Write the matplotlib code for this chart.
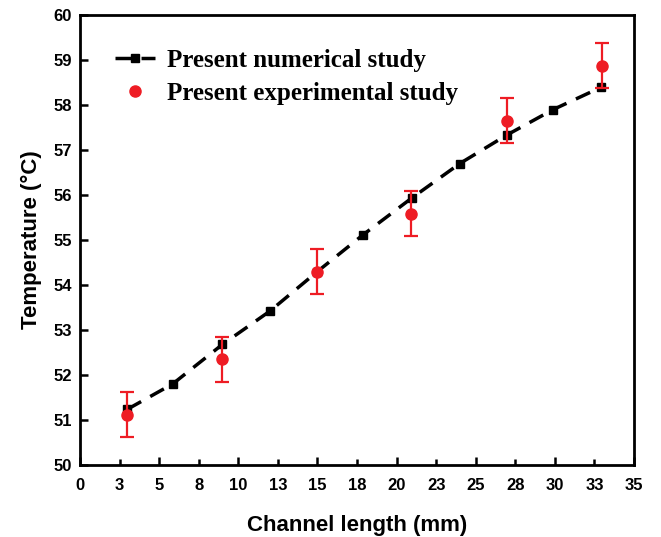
import matplotlib
matplotlib.use("Agg")
import matplotlib.pyplot as plt
from matplotlib.lines import Line2D
import numpy as np

# Data
num_x = [3.0, 5.85, 9.0, 12.0, 15.0, 17.9, 20.95, 24.0, 26.95, 29.9, 32.9]
num_y = [51.24, 51.8, 52.68, 53.42, 54.3, 55.12, 55.93, 56.7, 57.33, 57.9, 58.39]
exp_x = [3.0, 9.0, 15.0, 20.9, 27.0, 33.0]
exp_y = [51.12, 52.35, 54.29, 55.58, 57.65, 58.87]
exp_err = [0.5, 0.5, 0.5, 0.5, 0.5, 0.5]
xtick_pos = [0, 2.5, 5, 7.5, 10, 12.5, 15, 17.5, 20, 22.5, 25, 27.5, 30, 32.5, 35]
xtick_labels = ["0", "3", "5", "8", "10", "13", "15", "18", "20", "23", "25", "28", "30", "33", "35"]
ytick_pos = list(range(50, 61))
labels = ["Present numerical study", "Present experimental study"]

red = "#ee1c24"
fig = plt.figure(figsize=(6.61, 5.37), dpi=100)
ax = fig.add_axes([80/661, 72/537, 554/661, 450/537])

ax.plot(num_x, num_y, color="black", linestyle=(0, (4.5, 3)), linewidth=2.5,
        marker="s", markersize=6, zorder=3)
ax.errorbar(exp_x, exp_y, yerr=exp_err, fmt="o", color=red, ecolor=red,
            markersize=8, elinewidth=1.6, capsize=5, capthick=1.6, zorder=4)

ax.set_xlim(0, 35)
ax.set_ylim(50, 60)

major = [p for p, l in zip(xtick_pos, xtick_labels) if p % 5 == 0]
major_l = [l for p, l in zip(xtick_pos, xtick_labels) if p % 5 == 0]
minor = [p for p, l in zip(xtick_pos, xtick_labels) if p % 5 != 0]
minor_l = [l for p, l in zip(xtick_pos, xtick_labels) if p % 5 != 0]
tick_font = dict(family="Liberation Sans", weight="bold", size=12)
ax.set_xticks(major)
ax.set_xticklabels(major_l, fontdict=tick_font)
ax.set_xticks(minor, minor=True)
ax.set_xticklabels(minor_l, minor=True, fontdict=tick_font)
ax.set_yticks(ytick_pos)
ax.set_yticklabels([str(v) for v in ytick_pos], fontdict=tick_font)

ax.tick_params(axis="x", which="both", direction="in", width=1.8, pad=9)
ax.tick_params(axis="x", which="major", length=6)
ax.tick_params(axis="x", which="minor", length=4)
ax.tick_params(axis="y", which="major", direction="in", length=6, width=1.8, pad=6)
for s in ax.spines.values():
    s.set_linewidth(2)

ax.set_xlabel("Channel length (mm)", fontsize=16, fontweight="bold",
              family="Liberation Sans", labelpad=16)
ax.set_ylabel("Temperature (°C)", fontsize=16, fontweight="bold",
              family="Liberation Sans", labelpad=8)

handles = [
    Line2D([], [], color="black", linestyle=(0, (4.5, 3)), linewidth=2.5,
           marker="s", markersize=6),
    Line2D([], [], color=red, linestyle="none", marker="o", markersize=8),
]
leg = ax.legend(handles, labels, loc="upper left", bbox_to_anchor=(0.063, 0.924),
                frameon=False, borderaxespad=0, borderpad=0,
                prop=dict(family="Liberation Serif", weight="bold", size=18),
                handlelength=1.6, handletextpad=0.5, labelspacing=0.4)

fig.savefig("out.png", dpi=100)
